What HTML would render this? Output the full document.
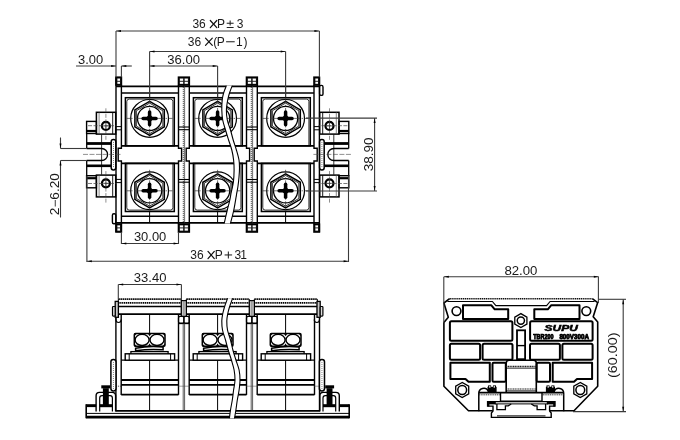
<!DOCTYPE html>
<html><head><meta charset="utf-8"><style>
html,body{margin:0;padding:0;background:#fff;}
svg{display:block;will-change:transform;font-family:"Liberation Sans", sans-serif;}
</style></head><body>
<svg width="680" height="440" viewBox="0 0 680 440">
<rect width="680" height="440" fill="#fff"/>
<line x1="116.00" y1="86.30" x2="319.40" y2="86.30" stroke="#000" stroke-width="1.8" stroke-linecap="butt"/>
<line x1="116.00" y1="222.90" x2="319.40" y2="222.90" stroke="#000" stroke-width="1.8" stroke-linecap="butt"/>
<line x1="121.40" y1="92.90" x2="178.50" y2="92.90" stroke="#000" stroke-width="1.5" stroke-linecap="butt"/>
<line x1="189.30" y1="92.90" x2="246.50" y2="92.90" stroke="#000" stroke-width="1.5" stroke-linecap="butt"/>
<line x1="257.30" y1="92.90" x2="314.00" y2="92.90" stroke="#000" stroke-width="1.5" stroke-linecap="butt"/>
<line x1="121.40" y1="216.30" x2="178.50" y2="216.30" stroke="#000" stroke-width="1.5" stroke-linecap="butt"/>
<line x1="189.30" y1="216.30" x2="246.50" y2="216.30" stroke="#000" stroke-width="1.5" stroke-linecap="butt"/>
<line x1="257.30" y1="216.30" x2="314.00" y2="216.30" stroke="#000" stroke-width="1.5" stroke-linecap="butt"/>
<line x1="121.40" y1="145.80" x2="178.50" y2="145.80" stroke="#000" stroke-width="1.8" stroke-linecap="butt"/>
<line x1="189.30" y1="145.80" x2="246.50" y2="145.80" stroke="#000" stroke-width="1.8" stroke-linecap="butt"/>
<line x1="257.30" y1="145.80" x2="314.00" y2="145.80" stroke="#000" stroke-width="1.8" stroke-linecap="butt"/>
<line x1="121.40" y1="163.40" x2="178.50" y2="163.40" stroke="#000" stroke-width="1.8" stroke-linecap="butt"/>
<line x1="189.30" y1="163.40" x2="246.50" y2="163.40" stroke="#000" stroke-width="1.8" stroke-linecap="butt"/>
<line x1="257.30" y1="163.40" x2="314.00" y2="163.40" stroke="#000" stroke-width="1.8" stroke-linecap="butt"/>
<rect x="125.40" y="97.70" width="48.90" height="48.10" rx="0" stroke="#000" stroke-width="1.5" fill="none"/>
<rect x="125.40" y="163.40" width="48.90" height="48.10" rx="0" stroke="#000" stroke-width="1.5" fill="none"/>
<path d="M126.8,145.8 V101.60000000000001 Q126.8,99.10000000000001 129.3,99.10000000000001 H170.39999999999998 Q172.89999999999998,99.10000000000001 172.89999999999998,101.60000000000001 V145.8" stroke="#000" stroke-width="0.8" fill="none" />
<path d="M126.8,163.39999999999998 V207.6 Q126.8,210.1 129.3,210.1 H170.39999999999998 Q172.89999999999998,210.1 172.89999999999998,207.6 V163.39999999999998" stroke="#000" stroke-width="0.8" fill="none" />
<rect x="193.40" y="97.70" width="48.90" height="48.10" rx="0" stroke="#000" stroke-width="1.5" fill="none"/>
<rect x="193.40" y="163.40" width="48.90" height="48.10" rx="0" stroke="#000" stroke-width="1.5" fill="none"/>
<path d="M194.8,145.8 V101.60000000000001 Q194.8,99.10000000000001 197.3,99.10000000000001 H238.39999999999998 Q240.89999999999998,99.10000000000001 240.89999999999998,101.60000000000001 V145.8" stroke="#000" stroke-width="0.8" fill="none" />
<path d="M194.8,163.39999999999998 V207.6 Q194.8,210.1 197.3,210.1 H238.39999999999998 Q240.89999999999998,210.1 240.89999999999998,207.6 V163.39999999999998" stroke="#000" stroke-width="0.8" fill="none" />
<rect x="261.40" y="97.70" width="48.90" height="48.10" rx="0" stroke="#000" stroke-width="1.5" fill="none"/>
<rect x="261.40" y="163.40" width="48.90" height="48.10" rx="0" stroke="#000" stroke-width="1.5" fill="none"/>
<path d="M262.8,145.8 V101.60000000000001 Q262.8,99.10000000000001 265.3,99.10000000000001 H306.40000000000003 Q308.90000000000003,99.10000000000001 308.90000000000003,101.60000000000001 V145.8" stroke="#000" stroke-width="0.8" fill="none" />
<path d="M262.8,163.39999999999998 V207.6 Q262.8,210.1 265.3,210.1 H306.40000000000003 Q308.90000000000003,210.1 308.90000000000003,207.6 V163.39999999999998" stroke="#000" stroke-width="0.8" fill="none" />
<line x1="116.00" y1="77.20" x2="116.00" y2="232.00" stroke="#000" stroke-width="1.4" stroke-linecap="butt"/>
<path d="M121.4,85.0 V148.2 H118.2 V161.0 H121.4 V224.2" stroke="#000" stroke-width="1.4" fill="none" />
<line x1="319.40" y1="77.20" x2="319.40" y2="232.00" stroke="#000" stroke-width="1.4" stroke-linecap="butt"/>
<path d="M314.0,85.0 V148.2 H317.2 V161.0 H314.0 V224.2" stroke="#000" stroke-width="1.4" fill="none" />
<path d="M178.5,85.0 V148.2 H181.6 V161.0 H178.5 V224.2" stroke="#000" stroke-width="1.4" fill="none" />
<path d="M189.3,85.0 V148.2 H186.20000000000002 V161.0 H189.3 V224.2" stroke="#000" stroke-width="1.4" fill="none" />
<line x1="183.30" y1="85.00" x2="183.30" y2="224.20" stroke="#222" stroke-width="0.8" stroke-dasharray="1.2,0.8" stroke-linecap="butt"/>
<line x1="184.60" y1="85.00" x2="184.60" y2="224.20" stroke="#333" stroke-width="0.7" stroke-linecap="butt"/>
<line x1="178.50" y1="127.00" x2="189.30" y2="127.00" stroke="#000" stroke-width="1.1" stroke-linecap="butt"/>
<line x1="178.50" y1="182.20" x2="189.30" y2="182.20" stroke="#000" stroke-width="1.1" stroke-linecap="butt"/>
<line x1="178.50" y1="129.70" x2="189.30" y2="129.70" stroke="#000" stroke-width="1.1" stroke-linecap="butt"/>
<line x1="178.50" y1="179.50" x2="189.30" y2="179.50" stroke="#000" stroke-width="1.1" stroke-linecap="butt"/>
<path d="M246.5,85.0 V148.2 H249.6 V161.0 H246.5 V224.2" stroke="#000" stroke-width="1.4" fill="none" />
<path d="M257.3,85.0 V148.2 H254.20000000000002 V161.0 H257.3 V224.2" stroke="#000" stroke-width="1.4" fill="none" />
<line x1="251.30" y1="85.00" x2="251.30" y2="224.20" stroke="#222" stroke-width="0.8" stroke-dasharray="1.2,0.8" stroke-linecap="butt"/>
<line x1="252.60" y1="85.00" x2="252.60" y2="224.20" stroke="#333" stroke-width="0.7" stroke-linecap="butt"/>
<line x1="246.50" y1="127.00" x2="257.30" y2="127.00" stroke="#000" stroke-width="1.1" stroke-linecap="butt"/>
<line x1="246.50" y1="182.20" x2="257.30" y2="182.20" stroke="#000" stroke-width="1.1" stroke-linecap="butt"/>
<line x1="246.50" y1="129.70" x2="257.30" y2="129.70" stroke="#000" stroke-width="1.1" stroke-linecap="butt"/>
<line x1="246.50" y1="179.50" x2="257.30" y2="179.50" stroke="#000" stroke-width="1.1" stroke-linecap="butt"/>
<line x1="116.00" y1="126.60" x2="121.40" y2="126.60" stroke="#000" stroke-width="1.0" stroke-linecap="butt"/>
<line x1="116.00" y1="182.60" x2="121.40" y2="182.60" stroke="#000" stroke-width="1.0" stroke-linecap="butt"/>
<line x1="116.00" y1="129.80" x2="121.40" y2="129.80" stroke="#000" stroke-width="1.0" stroke-linecap="butt"/>
<line x1="116.00" y1="179.40" x2="121.40" y2="179.40" stroke="#000" stroke-width="1.0" stroke-linecap="butt"/>
<line x1="314.00" y1="126.60" x2="319.40" y2="126.60" stroke="#000" stroke-width="1.0" stroke-linecap="butt"/>
<line x1="314.00" y1="182.60" x2="319.40" y2="182.60" stroke="#000" stroke-width="1.0" stroke-linecap="butt"/>
<line x1="314.00" y1="129.80" x2="319.40" y2="129.80" stroke="#000" stroke-width="1.0" stroke-linecap="butt"/>
<line x1="314.00" y1="179.40" x2="319.40" y2="179.40" stroke="#000" stroke-width="1.0" stroke-linecap="butt"/>
<rect x="116.00" y="77.20" width="5.40" height="7.80" rx="0" stroke="#000" stroke-width="1.6" fill="#222"/>
<rect x="117.40" y="78.60" width="2.60" height="2.20" fill="#fff"/>
<rect x="117.40" y="81.80" width="2.60" height="2.00" fill="#fff"/>
<rect x="116.00" y="224.20" width="5.40" height="7.80" rx="0" stroke="#000" stroke-width="1.6" fill="#222"/>
<rect x="117.40" y="225.40" width="2.60" height="2.00" fill="#fff"/>
<rect x="117.40" y="228.40" width="2.60" height="2.20" fill="#fff"/>
<rect x="178.50" y="77.20" width="10.80" height="7.80" rx="0" stroke="#000" stroke-width="1.6" fill="#222"/>
<rect x="179.90" y="78.60" width="3.20" height="2.20" fill="#fff"/>
<rect x="179.90" y="81.80" width="3.20" height="2.00" fill="#fff"/>
<rect x="184.70" y="78.60" width="3.20" height="2.20" fill="#fff"/>
<rect x="184.70" y="81.80" width="3.20" height="2.00" fill="#fff"/>
<rect x="178.50" y="224.20" width="10.80" height="7.80" rx="0" stroke="#000" stroke-width="1.6" fill="#222"/>
<rect x="179.90" y="225.40" width="3.20" height="2.00" fill="#fff"/>
<rect x="179.90" y="228.40" width="3.20" height="2.20" fill="#fff"/>
<rect x="184.70" y="225.40" width="3.20" height="2.00" fill="#fff"/>
<rect x="184.70" y="228.40" width="3.20" height="2.20" fill="#fff"/>
<rect x="246.50" y="77.20" width="10.80" height="7.80" rx="0" stroke="#000" stroke-width="1.6" fill="#222"/>
<rect x="247.90" y="78.60" width="3.20" height="2.20" fill="#fff"/>
<rect x="247.90" y="81.80" width="3.20" height="2.00" fill="#fff"/>
<rect x="252.70" y="78.60" width="3.20" height="2.20" fill="#fff"/>
<rect x="252.70" y="81.80" width="3.20" height="2.00" fill="#fff"/>
<rect x="246.50" y="224.20" width="10.80" height="7.80" rx="0" stroke="#000" stroke-width="1.6" fill="#222"/>
<rect x="247.90" y="225.40" width="3.20" height="2.00" fill="#fff"/>
<rect x="247.90" y="228.40" width="3.20" height="2.20" fill="#fff"/>
<rect x="252.70" y="225.40" width="3.20" height="2.00" fill="#fff"/>
<rect x="252.70" y="228.40" width="3.20" height="2.20" fill="#fff"/>
<rect x="314.00" y="77.20" width="5.40" height="7.80" rx="0" stroke="#000" stroke-width="1.6" fill="#222"/>
<rect x="315.40" y="78.60" width="2.60" height="2.20" fill="#fff"/>
<rect x="315.40" y="81.80" width="2.60" height="2.00" fill="#fff"/>
<rect x="314.00" y="224.20" width="5.40" height="7.80" rx="0" stroke="#000" stroke-width="1.6" fill="#222"/>
<rect x="315.40" y="225.40" width="2.60" height="2.00" fill="#fff"/>
<rect x="315.40" y="228.40" width="2.60" height="2.20" fill="#fff"/>
<rect x="319.60" y="85.40" width="3.40" height="10.00" rx="1.5" stroke="#000" stroke-width="1.4" fill="none"/>
<rect x="112.40" y="213.80" width="3.40" height="10.00" rx="1.5" stroke="#000" stroke-width="1.4" fill="none"/>
<line x1="149.60" y1="86.30" x2="149.60" y2="97.70" stroke="#000" stroke-width="1.0" stroke-linecap="butt"/>
<line x1="149.60" y1="211.50" x2="149.60" y2="222.90" stroke="#000" stroke-width="1.0" stroke-linecap="butt"/>
<line x1="217.60" y1="86.30" x2="217.60" y2="97.70" stroke="#000" stroke-width="1.0" stroke-linecap="butt"/>
<line x1="217.60" y1="211.50" x2="217.60" y2="222.90" stroke="#000" stroke-width="1.0" stroke-linecap="butt"/>
<line x1="285.60" y1="86.30" x2="285.60" y2="97.70" stroke="#000" stroke-width="1.0" stroke-linecap="butt"/>
<line x1="285.60" y1="211.50" x2="285.60" y2="222.90" stroke="#000" stroke-width="1.0" stroke-linecap="butt"/>
<circle cx="149.60" cy="118.40" r="18.9" stroke="#000" stroke-width="1.2" fill="none"/>
<path d="M149.60,101.40 L134.88,109.90 L134.88,126.90 L149.60,135.40 L164.32,126.90 L164.32,109.90Z" stroke="#000" stroke-width="1.5" fill="none" />
<path d="M149.60,103.10 L136.35,110.75 L136.35,126.05 L149.60,133.70 L162.85,126.05 L162.85,110.75Z" stroke="#000" stroke-width="0.8" fill="none" />
<circle cx="149.60" cy="118.40" r="12.1" stroke="#000" stroke-width="1.3" fill="none"/>
<line x1="126.60" y1="118.40" x2="172.60" y2="118.40" stroke="#333" stroke-width="0.7" stroke-dasharray="6,1.5,1.5,1.5" stroke-linecap="butt"/>
<line x1="149.60" y1="97.40" x2="149.60" y2="139.40" stroke="#333" stroke-width="0.7" stroke-dasharray="6,1.5,1.5,1.5" stroke-linecap="butt"/>
<rect x="141.40" y="116.65" width="16.40" height="3.50" rx="1.75" fill="#000"/>
<rect x="147.85" y="110.20" width="3.50" height="16.40" rx="1.75" fill="#000"/>
<rect x="146.60" y="115.40" width="6.0" height="6.0" rx="1" transform="rotate(45 149.60 118.40)" fill="#000"/>
<circle cx="149.60" cy="190.80" r="18.9" stroke="#000" stroke-width="1.2" fill="none"/>
<path d="M149.60,173.80 L134.88,182.30 L134.88,199.30 L149.60,207.80 L164.32,199.30 L164.32,182.30Z" stroke="#000" stroke-width="1.5" fill="none" />
<path d="M149.60,175.50 L136.35,183.15 L136.35,198.45 L149.60,206.10 L162.85,198.45 L162.85,183.15Z" stroke="#000" stroke-width="0.8" fill="none" />
<circle cx="149.60" cy="190.80" r="12.1" stroke="#000" stroke-width="1.3" fill="none"/>
<line x1="126.60" y1="190.80" x2="172.60" y2="190.80" stroke="#333" stroke-width="0.7" stroke-dasharray="6,1.5,1.5,1.5" stroke-linecap="butt"/>
<line x1="149.60" y1="169.80" x2="149.60" y2="211.80" stroke="#333" stroke-width="0.7" stroke-dasharray="6,1.5,1.5,1.5" stroke-linecap="butt"/>
<rect x="141.40" y="189.05" width="16.40" height="3.50" rx="1.75" fill="#000"/>
<rect x="147.85" y="182.60" width="3.50" height="16.40" rx="1.75" fill="#000"/>
<rect x="146.60" y="187.80" width="6.0" height="6.0" rx="1" transform="rotate(45 149.60 190.80)" fill="#000"/>
<circle cx="217.60" cy="118.40" r="18.9" stroke="#000" stroke-width="1.2" fill="none"/>
<path d="M217.60,101.40 L202.88,109.90 L202.88,126.90 L217.60,135.40 L232.32,126.90 L232.32,109.90Z" stroke="#000" stroke-width="1.5" fill="none" />
<path d="M217.60,103.10 L204.35,110.75 L204.35,126.05 L217.60,133.70 L230.85,126.05 L230.85,110.75Z" stroke="#000" stroke-width="0.8" fill="none" />
<circle cx="217.60" cy="118.40" r="12.1" stroke="#000" stroke-width="1.3" fill="none"/>
<line x1="194.60" y1="118.40" x2="240.60" y2="118.40" stroke="#333" stroke-width="0.7" stroke-dasharray="6,1.5,1.5,1.5" stroke-linecap="butt"/>
<line x1="217.60" y1="97.40" x2="217.60" y2="139.40" stroke="#333" stroke-width="0.7" stroke-dasharray="6,1.5,1.5,1.5" stroke-linecap="butt"/>
<rect x="209.40" y="116.65" width="16.40" height="3.50" rx="1.75" fill="#000"/>
<rect x="215.85" y="110.20" width="3.50" height="16.40" rx="1.75" fill="#000"/>
<rect x="214.60" y="115.40" width="6.0" height="6.0" rx="1" transform="rotate(45 217.60 118.40)" fill="#000"/>
<circle cx="217.60" cy="190.80" r="18.9" stroke="#000" stroke-width="1.2" fill="none"/>
<path d="M217.60,173.80 L202.88,182.30 L202.88,199.30 L217.60,207.80 L232.32,199.30 L232.32,182.30Z" stroke="#000" stroke-width="1.5" fill="none" />
<path d="M217.60,175.50 L204.35,183.15 L204.35,198.45 L217.60,206.10 L230.85,198.45 L230.85,183.15Z" stroke="#000" stroke-width="0.8" fill="none" />
<circle cx="217.60" cy="190.80" r="12.1" stroke="#000" stroke-width="1.3" fill="none"/>
<line x1="194.60" y1="190.80" x2="240.60" y2="190.80" stroke="#333" stroke-width="0.7" stroke-dasharray="6,1.5,1.5,1.5" stroke-linecap="butt"/>
<line x1="217.60" y1="169.80" x2="217.60" y2="211.80" stroke="#333" stroke-width="0.7" stroke-dasharray="6,1.5,1.5,1.5" stroke-linecap="butt"/>
<rect x="209.40" y="189.05" width="16.40" height="3.50" rx="1.75" fill="#000"/>
<rect x="215.85" y="182.60" width="3.50" height="16.40" rx="1.75" fill="#000"/>
<rect x="214.60" y="187.80" width="6.0" height="6.0" rx="1" transform="rotate(45 217.60 190.80)" fill="#000"/>
<circle cx="285.60" cy="118.40" r="18.9" stroke="#000" stroke-width="1.2" fill="none"/>
<path d="M285.60,101.40 L270.88,109.90 L270.88,126.90 L285.60,135.40 L300.32,126.90 L300.32,109.90Z" stroke="#000" stroke-width="1.5" fill="none" />
<path d="M285.60,103.10 L272.35,110.75 L272.35,126.05 L285.60,133.70 L298.85,126.05 L298.85,110.75Z" stroke="#000" stroke-width="0.8" fill="none" />
<circle cx="285.60" cy="118.40" r="12.1" stroke="#000" stroke-width="1.3" fill="none"/>
<line x1="262.60" y1="118.40" x2="308.60" y2="118.40" stroke="#333" stroke-width="0.7" stroke-dasharray="6,1.5,1.5,1.5" stroke-linecap="butt"/>
<line x1="285.60" y1="97.40" x2="285.60" y2="139.40" stroke="#333" stroke-width="0.7" stroke-dasharray="6,1.5,1.5,1.5" stroke-linecap="butt"/>
<rect x="277.40" y="116.65" width="16.40" height="3.50" rx="1.75" fill="#000"/>
<rect x="283.85" y="110.20" width="3.50" height="16.40" rx="1.75" fill="#000"/>
<rect x="282.60" y="115.40" width="6.0" height="6.0" rx="1" transform="rotate(45 285.60 118.40)" fill="#000"/>
<circle cx="285.60" cy="190.80" r="18.9" stroke="#000" stroke-width="1.2" fill="none"/>
<path d="M285.60,173.80 L270.88,182.30 L270.88,199.30 L285.60,207.80 L300.32,199.30 L300.32,182.30Z" stroke="#000" stroke-width="1.5" fill="none" />
<path d="M285.60,175.50 L272.35,183.15 L272.35,198.45 L285.60,206.10 L298.85,198.45 L298.85,183.15Z" stroke="#000" stroke-width="0.8" fill="none" />
<circle cx="285.60" cy="190.80" r="12.1" stroke="#000" stroke-width="1.3" fill="none"/>
<line x1="262.60" y1="190.80" x2="308.60" y2="190.80" stroke="#333" stroke-width="0.7" stroke-dasharray="6,1.5,1.5,1.5" stroke-linecap="butt"/>
<line x1="285.60" y1="169.80" x2="285.60" y2="211.80" stroke="#333" stroke-width="0.7" stroke-dasharray="6,1.5,1.5,1.5" stroke-linecap="butt"/>
<rect x="277.40" y="189.05" width="16.40" height="3.50" rx="1.75" fill="#000"/>
<rect x="283.85" y="182.60" width="3.50" height="16.40" rx="1.75" fill="#000"/>
<rect x="282.60" y="187.80" width="6.0" height="6.0" rx="1" transform="rotate(45 285.60 190.80)" fill="#000"/>
<rect x="96.40" y="112.30" width="19.30" height="21.80" rx="0" stroke="#000" stroke-width="1.5" fill="none"/>
<line x1="99.10" y1="112.30" x2="99.10" y2="134.10" stroke="#555" stroke-width="0.7" stroke-linecap="butt"/>
<line x1="112.70" y1="112.30" x2="112.70" y2="134.10" stroke="#000" stroke-width="0.9" stroke-linecap="butt"/>
<circle cx="105.90" cy="125.90" r="4.0" stroke="#000" stroke-width="2.2" fill="none"/>
<line x1="102.90" y1="125.90" x2="108.90" y2="125.90" stroke="#000" stroke-width="0.6" stroke-linecap="butt"/>
<line x1="105.90" y1="122.90" x2="105.90" y2="128.90" stroke="#000" stroke-width="0.6" stroke-linecap="butt"/>
<line x1="105.90" y1="108.30" x2="105.90" y2="140.10" stroke="#444" stroke-width="0.6" stroke-dasharray="4,1.5" stroke-linecap="butt"/>
<rect x="96.40" y="175.10" width="19.30" height="21.80" rx="0" stroke="#000" stroke-width="1.5" fill="none"/>
<line x1="99.10" y1="175.10" x2="99.10" y2="196.90" stroke="#555" stroke-width="0.7" stroke-linecap="butt"/>
<line x1="112.70" y1="175.10" x2="112.70" y2="196.90" stroke="#000" stroke-width="0.9" stroke-linecap="butt"/>
<circle cx="105.90" cy="183.30" r="4.0" stroke="#000" stroke-width="2.2" fill="none"/>
<line x1="102.90" y1="183.30" x2="108.90" y2="183.30" stroke="#000" stroke-width="0.6" stroke-linecap="butt"/>
<line x1="105.90" y1="180.30" x2="105.90" y2="186.30" stroke="#000" stroke-width="0.6" stroke-linecap="butt"/>
<line x1="105.90" y1="171.10" x2="105.90" y2="202.90" stroke="#444" stroke-width="0.6" stroke-dasharray="4,1.5" stroke-linecap="butt"/>
<rect x="86.60" y="121.40" width="9.80" height="12.10" rx="0" stroke="#000" stroke-width="1.4" fill="none"/>
<line x1="86.60" y1="131.00" x2="96.40" y2="131.00" stroke="#000" stroke-width="2.2" stroke-linecap="butt"/>
<line x1="88.00" y1="125.70" x2="117.00" y2="125.70" stroke="#444" stroke-width="0.7" stroke-dasharray="4,1.5" stroke-linecap="butt"/>
<rect x="86.60" y="175.70" width="9.80" height="12.10" rx="0" stroke="#000" stroke-width="1.4" fill="none"/>
<line x1="86.60" y1="178.20" x2="96.40" y2="178.20" stroke="#000" stroke-width="2.2" stroke-linecap="butt"/>
<line x1="88.00" y1="183.50" x2="117.00" y2="183.50" stroke="#444" stroke-width="0.7" stroke-dasharray="4,1.5" stroke-linecap="butt"/>
<line x1="86.70" y1="133.50" x2="86.70" y2="148.50" stroke="#000" stroke-width="1.3" stroke-linecap="butt"/>
<line x1="86.70" y1="160.50" x2="86.70" y2="175.70" stroke="#000" stroke-width="1.3" stroke-linecap="butt"/>
<line x1="86.90" y1="143.50" x2="111.20" y2="143.50" stroke="#000" stroke-width="2.8" stroke-linecap="butt"/>
<line x1="86.90" y1="165.80" x2="111.20" y2="165.80" stroke="#000" stroke-width="2.6" stroke-linecap="butt"/>
<line x1="101.60" y1="134.50" x2="101.60" y2="174.70" stroke="#000" stroke-width="0.8" stroke-linecap="butt"/>
<path d="M86.7,148.5 H101.6 A6.0,6.0 0 0 1 101.6,160.5 H86.7" stroke="#000" stroke-width="1.3" fill="none" />
<rect x="111.20" y="139.60" width="4.60" height="30.40" rx="2.2" stroke="#000" stroke-width="1.5" fill="#fff"/>
<line x1="113.50" y1="142.00" x2="113.50" y2="168.00" stroke="#555" stroke-width="0.7" stroke-dasharray="1,1" stroke-linecap="butt"/>
<rect x="319.70" y="112.30" width="19.30" height="21.80" rx="0" stroke="#000" stroke-width="1.5" fill="none"/>
<line x1="336.30" y1="112.30" x2="336.30" y2="134.10" stroke="#555" stroke-width="0.7" stroke-linecap="butt"/>
<line x1="322.70" y1="112.30" x2="322.70" y2="134.10" stroke="#000" stroke-width="0.9" stroke-linecap="butt"/>
<circle cx="329.50" cy="125.90" r="4.0" stroke="#000" stroke-width="2.2" fill="none"/>
<line x1="326.50" y1="125.90" x2="332.50" y2="125.90" stroke="#000" stroke-width="0.6" stroke-linecap="butt"/>
<line x1="329.50" y1="122.90" x2="329.50" y2="128.90" stroke="#000" stroke-width="0.6" stroke-linecap="butt"/>
<line x1="329.50" y1="108.30" x2="329.50" y2="140.10" stroke="#444" stroke-width="0.6" stroke-dasharray="4,1.5" stroke-linecap="butt"/>
<rect x="319.70" y="175.10" width="19.30" height="21.80" rx="0" stroke="#000" stroke-width="1.5" fill="none"/>
<line x1="336.30" y1="175.10" x2="336.30" y2="196.90" stroke="#555" stroke-width="0.7" stroke-linecap="butt"/>
<line x1="322.70" y1="175.10" x2="322.70" y2="196.90" stroke="#000" stroke-width="0.9" stroke-linecap="butt"/>
<circle cx="329.50" cy="183.30" r="4.0" stroke="#000" stroke-width="2.2" fill="none"/>
<line x1="326.50" y1="183.30" x2="332.50" y2="183.30" stroke="#000" stroke-width="0.6" stroke-linecap="butt"/>
<line x1="329.50" y1="180.30" x2="329.50" y2="186.30" stroke="#000" stroke-width="0.6" stroke-linecap="butt"/>
<line x1="329.50" y1="171.10" x2="329.50" y2="202.90" stroke="#444" stroke-width="0.6" stroke-dasharray="4,1.5" stroke-linecap="butt"/>
<rect x="339.00" y="121.40" width="9.80" height="12.10" rx="0" stroke="#000" stroke-width="1.4" fill="none"/>
<line x1="339.00" y1="131.00" x2="348.80" y2="131.00" stroke="#000" stroke-width="2.2" stroke-linecap="butt"/>
<line x1="347.40" y1="125.70" x2="318.40" y2="125.70" stroke="#444" stroke-width="0.7" stroke-dasharray="4,1.5" stroke-linecap="butt"/>
<rect x="339.00" y="175.70" width="9.80" height="12.10" rx="0" stroke="#000" stroke-width="1.4" fill="none"/>
<line x1="339.00" y1="178.20" x2="348.80" y2="178.20" stroke="#000" stroke-width="2.2" stroke-linecap="butt"/>
<line x1="347.40" y1="183.50" x2="318.40" y2="183.50" stroke="#444" stroke-width="0.7" stroke-dasharray="4,1.5" stroke-linecap="butt"/>
<line x1="348.70" y1="133.50" x2="348.70" y2="148.50" stroke="#000" stroke-width="1.3" stroke-linecap="butt"/>
<line x1="348.70" y1="160.50" x2="348.70" y2="175.70" stroke="#000" stroke-width="1.3" stroke-linecap="butt"/>
<line x1="348.50" y1="143.50" x2="324.20" y2="143.50" stroke="#000" stroke-width="2.8" stroke-linecap="butt"/>
<line x1="348.50" y1="165.80" x2="324.20" y2="165.80" stroke="#000" stroke-width="2.6" stroke-linecap="butt"/>
<line x1="333.80" y1="134.50" x2="333.80" y2="174.70" stroke="#000" stroke-width="0.8" stroke-linecap="butt"/>
<path d="M348.7,148.5 H333.79999999999995 A6.0,6.0 0 0 0 333.79999999999995,160.5 H348.7" stroke="#000" stroke-width="1.3" fill="none" />
<rect x="319.60" y="139.60" width="4.60" height="30.40" rx="2.2" stroke="#000" stroke-width="1.5" fill="#fff"/>
<line x1="321.90" y1="142.00" x2="321.90" y2="168.00" stroke="#555" stroke-width="0.7" stroke-dasharray="1,1" stroke-linecap="butt"/>
<line x1="83.00" y1="154.40" x2="122.00" y2="154.40" stroke="#444" stroke-width="0.6" stroke-dasharray="5,1.5" stroke-linecap="butt"/>
<line x1="313.40" y1="154.40" x2="352.40" y2="154.40" stroke="#444" stroke-width="0.6" stroke-dasharray="5,1.5" stroke-linecap="butt"/>
<path d="M226.40,85.60 C225.93,86.83 224.30,90.60 223.60,93.00 C222.90,95.40 222.50,97.17 222.20,100.00 C221.90,102.83 221.72,106.67 221.80,110.00 C221.88,113.33 222.08,116.67 222.70,120.00 C223.32,123.33 224.52,126.67 225.50,130.00 C226.48,133.33 227.55,136.67 228.60,140.00 C229.65,143.33 230.97,146.67 231.80,150.00 C232.63,153.33 233.22,156.67 233.60,160.00 C233.98,163.33 234.13,166.33 234.10,170.00 C234.07,173.67 233.87,178.33 233.40,182.00 C232.93,185.67 231.93,188.83 231.30,192.00 C230.67,195.17 230.27,198.00 229.60,201.00 C228.93,204.00 228.20,206.25 227.30,210.00 C226.40,213.75 224.72,221.25 224.20,223.50 L230.40,223.50 C230.97,221.25 232.77,214.92 233.80,210.00 C234.83,205.08 235.90,198.00 236.60,194.00 C237.30,190.00 237.60,188.83 238.00,186.00 C238.40,183.17 238.75,180.00 239.00,177.00 C239.25,174.00 239.50,170.83 239.50,168.00 C239.50,165.17 239.52,163.00 239.00,160.00 C238.48,157.00 237.37,153.33 236.40,150.00 C235.43,146.67 234.18,143.33 233.20,140.00 C232.22,136.67 231.48,133.33 230.50,130.00 C229.52,126.67 227.98,123.33 227.30,120.00 C226.62,116.67 226.33,113.33 226.40,110.00 C226.47,106.67 227.18,102.83 227.70,100.00 C228.22,97.17 228.73,95.40 229.50,93.00 C230.27,90.60 231.83,86.83 232.30,85.60Z" stroke="#000" stroke-width="0" fill="#fff" />
<path d="M226.40,85.60 C225.93,86.83 224.30,90.60 223.60,93.00 C222.90,95.40 222.50,97.17 222.20,100.00 C221.90,102.83 221.72,106.67 221.80,110.00 C221.88,113.33 222.08,116.67 222.70,120.00 C223.32,123.33 224.52,126.67 225.50,130.00 C226.48,133.33 227.55,136.67 228.60,140.00 C229.65,143.33 230.97,146.67 231.80,150.00 C232.63,153.33 233.22,156.67 233.60,160.00 C233.98,163.33 234.13,166.33 234.10,170.00 C234.07,173.67 233.87,178.33 233.40,182.00 C232.93,185.67 231.93,188.83 231.30,192.00 C230.67,195.17 230.27,198.00 229.60,201.00 C228.93,204.00 228.20,206.25 227.30,210.00 C226.40,213.75 224.72,221.25 224.20,223.50" stroke="#000" stroke-width="1.1" fill="none" />
<path d="M232.30,85.60 C231.83,86.83 230.27,90.60 229.50,93.00 C228.73,95.40 228.22,97.17 227.70,100.00 C227.18,102.83 226.47,106.67 226.40,110.00 C226.33,113.33 226.62,116.67 227.30,120.00 C227.98,123.33 229.52,126.67 230.50,130.00 C231.48,133.33 232.22,136.67 233.20,140.00 C234.18,143.33 235.43,146.67 236.40,150.00 C237.37,153.33 238.48,157.00 239.00,160.00 C239.52,163.00 239.50,165.17 239.50,168.00 C239.50,170.83 239.25,174.00 239.00,177.00 C238.75,180.00 238.40,183.17 238.00,186.00 C237.60,188.83 237.30,190.00 236.60,194.00 C235.90,198.00 234.83,205.08 233.80,210.00 C232.77,214.92 230.97,221.25 230.40,223.50" stroke="#000" stroke-width="1.1" fill="none" />
<line x1="116.00" y1="31.00" x2="116.00" y2="77.20" stroke="#3a3a3a" stroke-width="1.1" stroke-linecap="butt"/>
<line x1="319.40" y1="31.00" x2="319.40" y2="77.20" stroke="#3a3a3a" stroke-width="1.1" stroke-linecap="butt"/>
<line x1="116.00" y1="31.00" x2="319.40" y2="31.00" stroke="#3a3a3a" stroke-width="1.1" stroke-linecap="butt"/>
<path d="M116.5,31 L121.0,30.0 L121.0,32.0Z" fill="#000"/>
<path d="M318.9,31 L314.4,30.0 L314.4,32.0Z" fill="#000"/>
<line x1="149.60" y1="51.50" x2="149.60" y2="97.00" stroke="#3a3a3a" stroke-width="1.1" stroke-linecap="butt"/>
<line x1="285.60" y1="51.50" x2="285.60" y2="97.00" stroke="#3a3a3a" stroke-width="1.1" stroke-linecap="butt"/>
<line x1="149.60" y1="51.50" x2="285.60" y2="51.50" stroke="#3a3a3a" stroke-width="1.1" stroke-linecap="butt"/>
<path d="M150,51.5 L154.5,50.5 L154.5,52.5Z" fill="#000"/>
<path d="M285.2,51.5 L280.7,50.5 L280.7,52.5Z" fill="#000"/>
<line x1="149.60" y1="66.00" x2="217.60" y2="66.00" stroke="#3a3a3a" stroke-width="1.1" stroke-linecap="butt"/>
<path d="M150,66 L154.5,65.0 L154.5,67.0Z" fill="#000"/>
<path d="M217.2,66 L212.7,65.0 L212.7,67.0Z" fill="#000"/>
<line x1="217.60" y1="66.00" x2="217.60" y2="97.00" stroke="#3a3a3a" stroke-width="1.1" stroke-linecap="butt"/>
<line x1="76.00" y1="66.00" x2="116.00" y2="66.00" stroke="#3a3a3a" stroke-width="1.1" stroke-linecap="butt"/>
<path d="M115.6,66 L111.1,65.0 L111.1,67.0Z" fill="#000"/>
<line x1="121.40" y1="66.00" x2="131.80" y2="66.00" stroke="#3a3a3a" stroke-width="1.1" stroke-linecap="butt"/>
<path d="M121.8,66 L126.3,65.0 L126.3,67.0Z" fill="#000"/>
<line x1="121.40" y1="66.00" x2="121.40" y2="77.20" stroke="#3a3a3a" stroke-width="1.1" stroke-linecap="butt"/>
<line x1="121.40" y1="232.00" x2="121.40" y2="244.00" stroke="#3a3a3a" stroke-width="1.1" stroke-linecap="butt"/>
<line x1="178.50" y1="232.00" x2="178.50" y2="244.00" stroke="#3a3a3a" stroke-width="1.1" stroke-linecap="butt"/>
<line x1="121.40" y1="243.50" x2="178.50" y2="243.50" stroke="#3a3a3a" stroke-width="1.1" stroke-linecap="butt"/>
<path d="M121.8,243.5 L126.3,242.5 L126.3,244.5Z" fill="#000"/>
<path d="M178.1,243.5 L173.6,242.5 L173.6,244.5Z" fill="#000"/>
<line x1="86.90" y1="175.70" x2="86.90" y2="262.00" stroke="#3a3a3a" stroke-width="1.1" stroke-linecap="butt"/>
<line x1="348.50" y1="175.70" x2="348.50" y2="262.00" stroke="#3a3a3a" stroke-width="1.1" stroke-linecap="butt"/>
<line x1="86.90" y1="261.30" x2="348.50" y2="261.30" stroke="#3a3a3a" stroke-width="1.1" stroke-linecap="butt"/>
<path d="M87.3,261.3 L91.8,260.3 L91.8,262.3Z" fill="#000"/>
<path d="M348.1,261.3 L343.6,260.3 L343.6,262.3Z" fill="#000"/>
<line x1="306.00" y1="118.10" x2="377.00" y2="118.10" stroke="#3a3a3a" stroke-width="1.1" stroke-linecap="butt"/>
<line x1="306.00" y1="191.00" x2="377.00" y2="191.00" stroke="#3a3a3a" stroke-width="1.1" stroke-linecap="butt"/>
<line x1="374.60" y1="118.10" x2="374.60" y2="191.00" stroke="#3a3a3a" stroke-width="1.1" stroke-linecap="butt"/>
<path d="M374.6,118.5 L373.6,123.0 L375.6,123.0Z" fill="#000"/>
<path d="M374.6,190.6 L373.6,186.1 L375.6,186.1Z" fill="#000"/>
<line x1="60.50" y1="148.50" x2="86.70" y2="148.50" stroke="#3a3a3a" stroke-width="1.1" stroke-linecap="butt"/>
<line x1="60.50" y1="160.50" x2="86.70" y2="160.50" stroke="#3a3a3a" stroke-width="1.1" stroke-linecap="butt"/>
<line x1="60.50" y1="137.50" x2="60.50" y2="148.50" stroke="#3a3a3a" stroke-width="1.1" stroke-linecap="butt"/>
<path d="M60.5,148.1 L59.5,143.6 L61.5,143.6Z" fill="#000"/>
<line x1="60.50" y1="160.50" x2="60.50" y2="217.50" stroke="#3a3a3a" stroke-width="1.1" stroke-linecap="butt"/>
<path d="M60.5,160.9 L59.5,165.4 L61.5,165.4Z" fill="#000"/>
<text x="195.75" y="28.0" font-size="12" text-anchor="middle" fill="#1a1a1a">3</text>
<text x="202.35" y="28.0" font-size="12" text-anchor="middle" fill="#1a1a1a">6</text>
<line x1="210.30" y1="20.50" x2="216.80" y2="27.70" stroke="#111" stroke-width="1.2" stroke-linecap="round"/>
<line x1="216.80" y1="20.50" x2="210.30" y2="27.70" stroke="#111" stroke-width="1.2" stroke-linecap="round"/>
<text x="221.05" y="28.0" font-size="12" text-anchor="middle" fill="#1a1a1a">P</text>
<line x1="230.15" y1="20.50" x2="230.15" y2="25.40" stroke="#222" stroke-width="1.05" stroke-linecap="butt"/>
<line x1="226.70" y1="23.25" x2="233.60" y2="23.25" stroke="#222" stroke-width="1.05" stroke-linecap="butt"/>
<line x1="226.70" y1="27.50" x2="233.60" y2="27.50" stroke="#222" stroke-width="1.05" stroke-linecap="butt"/>
<text x="240.20" y="28.0" font-size="12" text-anchor="middle" fill="#1a1a1a">3</text>
<text x="191.20" y="45.7" font-size="12" text-anchor="middle" fill="#1a1a1a">3</text>
<text x="197.90" y="45.7" font-size="12" text-anchor="middle" fill="#1a1a1a">6</text>
<line x1="205.50" y1="38.20" x2="212.30" y2="45.40" stroke="#111" stroke-width="1.2" stroke-linecap="round"/>
<line x1="212.30" y1="38.20" x2="205.50" y2="45.40" stroke="#111" stroke-width="1.2" stroke-linecap="round"/>
<text x="215.35" y="45.7" font-size="12" text-anchor="middle" fill="#1a1a1a">(</text>
<text x="220.85" y="45.7" font-size="12" text-anchor="middle" fill="#1a1a1a">P</text>
<line x1="226.10" y1="41.75" x2="234.70" y2="41.75" stroke="#222" stroke-width="1.05" stroke-linecap="butt"/>
<text x="239.30" y="45.7" font-size="12" text-anchor="middle" fill="#1a1a1a">1</text>
<text x="245.45" y="45.7" font-size="12" text-anchor="middle" fill="#1a1a1a">)</text>
<text x="78.0" y="63.9" font-size="12" font-weight="normal" font-style="normal" text-anchor="start" fill="#1a1a1a" textLength="25.2" lengthAdjust="spacingAndGlyphs">3.00</text>
<text x="167.3" y="63.9" font-size="12" font-weight="normal" font-style="normal" text-anchor="start" fill="#1a1a1a" textLength="32.7" lengthAdjust="spacingAndGlyphs">36.00</text>
<text x="133.9" y="241.2" font-size="12.4" font-weight="normal" font-style="normal" text-anchor="start" fill="#1a1a1a" textLength="32.4" lengthAdjust="spacingAndGlyphs">30.00</text>
<text x="193.55" y="258.9" font-size="12" text-anchor="middle" fill="#1a1a1a">3</text>
<text x="200.35" y="258.9" font-size="12" text-anchor="middle" fill="#1a1a1a">6</text>
<line x1="208.00" y1="251.40" x2="214.30" y2="258.60" stroke="#111" stroke-width="1.2" stroke-linecap="round"/>
<line x1="214.30" y1="251.40" x2="208.00" y2="258.60" stroke="#111" stroke-width="1.2" stroke-linecap="round"/>
<text x="218.70" y="258.9" font-size="12" text-anchor="middle" fill="#1a1a1a">P</text>
<line x1="228.35" y1="251.60" x2="228.35" y2="258.40" stroke="#222" stroke-width="1.05" stroke-linecap="butt"/>
<line x1="224.60" y1="254.95" x2="232.10" y2="254.95" stroke="#222" stroke-width="1.05" stroke-linecap="butt"/>
<text x="237.75" y="258.9" font-size="12" text-anchor="middle" fill="#1a1a1a">3</text>
<text x="243.65" y="258.9" font-size="12" text-anchor="middle" fill="#1a1a1a">1</text>
<text x="373.1" y="171.3" font-size="12" font-weight="normal" font-style="normal" text-anchor="start" fill="#1a1a1a" textLength="33.7" lengthAdjust="spacingAndGlyphs" transform="rotate(-90 373.1 171.3)">38.90</text>
<text x="59.2" y="215.2" font-size="12" font-weight="normal" font-style="normal" text-anchor="start" fill="#1a1a1a" textLength="42.2" lengthAdjust="spacingAndGlyphs" transform="rotate(-90 59.2 215.2)">2−6.20</text>
<line x1="118.30" y1="299.20" x2="181.40" y2="299.20" stroke="#111" stroke-width="1.8" stroke-dasharray="1.6,0.5" stroke-linecap="butt"/>
<line x1="118.30" y1="302.90" x2="181.40" y2="302.90" stroke="#000" stroke-width="1.6" stroke-dasharray="1.3,0.6" stroke-linecap="butt"/>
<line x1="118.30" y1="306.50" x2="181.40" y2="306.50" stroke="#000" stroke-width="1.6" stroke-linecap="butt"/>
<line x1="118.30" y1="314.10" x2="181.40" y2="314.10" stroke="#000" stroke-width="1.6" stroke-linecap="butt"/>
<line x1="118.30" y1="299.20" x2="118.30" y2="314.10" stroke="#000" stroke-width="1.0" stroke-linecap="butt"/>
<line x1="181.40" y1="299.20" x2="181.40" y2="314.10" stroke="#000" stroke-width="1.0" stroke-linecap="butt"/>
<line x1="121.20" y1="314.10" x2="121.20" y2="394.90" stroke="#000" stroke-width="1.4" stroke-linecap="butt"/>
<line x1="178.50" y1="314.10" x2="178.50" y2="394.90" stroke="#000" stroke-width="1.4" stroke-linecap="butt"/>
<line x1="149.60" y1="314.10" x2="149.60" y2="333.60" stroke="#000" stroke-width="1.0" stroke-linecap="butt"/>
<line x1="149.60" y1="360.20" x2="149.60" y2="410.80" stroke="#000" stroke-width="1.0" stroke-linecap="butt"/>
<line x1="121.20" y1="360.20" x2="178.50" y2="360.20" stroke="#000" stroke-width="1.3" stroke-linecap="butt"/>
<line x1="121.20" y1="380.00" x2="178.50" y2="380.00" stroke="#000" stroke-width="1.8" stroke-linecap="butt"/>
<line x1="121.20" y1="384.80" x2="178.50" y2="384.80" stroke="#000" stroke-width="1.8" stroke-linecap="butt"/>
<line x1="121.20" y1="394.70" x2="178.50" y2="394.70" stroke="#000" stroke-width="1.8" stroke-linecap="butt"/>
<rect x="134.30" y="333.60" width="30.70" height="12.60" rx="1.2" stroke="#000" stroke-width="1.5" fill="none"/>
<path d="M134.30,333.6 h2.6 L134.30,336.20000000000005Z" stroke="#000" stroke-width="0" fill="#000" />
<path d="M165.00,333.6 h-2.6 L165.00,336.20000000000005Z" stroke="#000" stroke-width="0" fill="#000" />
<path d="M134.30,346.2 h2.6 L134.30,343.59999999999997Z" stroke="#000" stroke-width="0" fill="#000" />
<path d="M165.00,346.2 h-2.6 L165.00,343.59999999999997Z" stroke="#000" stroke-width="0" fill="#000" />
<path d="M147.80,333.6 h3.6 L149.60,336.2Z" stroke="#000" stroke-width="0" fill="#000" />
<path d="M147.80,346.2 h3.6 L149.60,343.6Z" stroke="#000" stroke-width="0" fill="#000" />
<ellipse cx="142.10" cy="339.9" rx="7.0" ry="5.6" stroke="#000" stroke-width="1.4" fill="#fff"/>
<ellipse cx="157.00" cy="339.9" rx="7.0" ry="5.6" stroke="#000" stroke-width="1.4" fill="#fff"/>
<path d="M135.6,348.3 Q149.6,345.3 163.1,347.0 L163.1,349.8 Q149.6,348.6 135.6,350.8Z" stroke="#000" stroke-width="1.5" fill="none" />
<rect x="130.90" y="351.60" width="37.20" height="3.40" rx="0" stroke="#000" stroke-width="1.3" fill="none"/>
<rect x="125.20" y="353.80" width="49.40" height="6.40" rx="0" stroke="#000" stroke-width="1.4" fill="#fff"/>
<line x1="129.20" y1="353.80" x2="129.20" y2="360.20" stroke="#000" stroke-width="1.0" stroke-linecap="butt"/>
<line x1="170.60" y1="353.80" x2="170.60" y2="360.20" stroke="#000" stroke-width="1.0" stroke-linecap="butt"/>
<line x1="186.30" y1="299.20" x2="249.40" y2="299.20" stroke="#111" stroke-width="1.8" stroke-dasharray="1.6,0.5" stroke-linecap="butt"/>
<line x1="186.30" y1="302.90" x2="249.40" y2="302.90" stroke="#000" stroke-width="1.6" stroke-dasharray="1.3,0.6" stroke-linecap="butt"/>
<line x1="186.30" y1="306.50" x2="249.40" y2="306.50" stroke="#000" stroke-width="1.6" stroke-linecap="butt"/>
<line x1="186.30" y1="314.10" x2="249.40" y2="314.10" stroke="#000" stroke-width="1.6" stroke-linecap="butt"/>
<line x1="186.30" y1="299.20" x2="186.30" y2="314.10" stroke="#000" stroke-width="1.0" stroke-linecap="butt"/>
<line x1="249.40" y1="299.20" x2="249.40" y2="314.10" stroke="#000" stroke-width="1.0" stroke-linecap="butt"/>
<line x1="189.20" y1="314.10" x2="189.20" y2="394.90" stroke="#000" stroke-width="1.4" stroke-linecap="butt"/>
<line x1="246.50" y1="314.10" x2="246.50" y2="394.90" stroke="#000" stroke-width="1.4" stroke-linecap="butt"/>
<line x1="217.60" y1="314.10" x2="217.60" y2="333.60" stroke="#000" stroke-width="1.0" stroke-linecap="butt"/>
<line x1="217.60" y1="360.20" x2="217.60" y2="410.80" stroke="#000" stroke-width="1.0" stroke-linecap="butt"/>
<line x1="189.20" y1="360.20" x2="246.50" y2="360.20" stroke="#000" stroke-width="1.3" stroke-linecap="butt"/>
<line x1="189.20" y1="380.00" x2="246.50" y2="380.00" stroke="#000" stroke-width="1.8" stroke-linecap="butt"/>
<line x1="189.20" y1="384.80" x2="246.50" y2="384.80" stroke="#000" stroke-width="1.8" stroke-linecap="butt"/>
<line x1="189.20" y1="394.70" x2="246.50" y2="394.70" stroke="#000" stroke-width="1.8" stroke-linecap="butt"/>
<rect x="202.30" y="333.60" width="30.70" height="12.60" rx="1.2" stroke="#000" stroke-width="1.5" fill="none"/>
<path d="M202.30,333.6 h2.6 L202.30,336.20000000000005Z" stroke="#000" stroke-width="0" fill="#000" />
<path d="M233.00,333.6 h-2.6 L233.00,336.20000000000005Z" stroke="#000" stroke-width="0" fill="#000" />
<path d="M202.30,346.2 h2.6 L202.30,343.59999999999997Z" stroke="#000" stroke-width="0" fill="#000" />
<path d="M233.00,346.2 h-2.6 L233.00,343.59999999999997Z" stroke="#000" stroke-width="0" fill="#000" />
<path d="M215.80,333.6 h3.6 L217.60,336.2Z" stroke="#000" stroke-width="0" fill="#000" />
<path d="M215.80,346.2 h3.6 L217.60,343.6Z" stroke="#000" stroke-width="0" fill="#000" />
<ellipse cx="210.10" cy="339.9" rx="7.0" ry="5.6" stroke="#000" stroke-width="1.4" fill="#fff"/>
<ellipse cx="225.00" cy="339.9" rx="7.0" ry="5.6" stroke="#000" stroke-width="1.4" fill="#fff"/>
<path d="M203.6,348.3 Q217.6,345.3 231.1,347.0 L231.1,349.8 Q217.6,348.6 203.6,350.8Z" stroke="#000" stroke-width="1.5" fill="none" />
<rect x="198.90" y="351.60" width="37.20" height="3.40" rx="0" stroke="#000" stroke-width="1.3" fill="none"/>
<rect x="193.20" y="353.80" width="49.40" height="6.40" rx="0" stroke="#000" stroke-width="1.4" fill="#fff"/>
<line x1="197.20" y1="353.80" x2="197.20" y2="360.20" stroke="#000" stroke-width="1.0" stroke-linecap="butt"/>
<line x1="238.60" y1="353.80" x2="238.60" y2="360.20" stroke="#000" stroke-width="1.0" stroke-linecap="butt"/>
<line x1="254.30" y1="299.20" x2="317.40" y2="299.20" stroke="#111" stroke-width="1.8" stroke-dasharray="1.6,0.5" stroke-linecap="butt"/>
<line x1="254.30" y1="302.90" x2="317.40" y2="302.90" stroke="#000" stroke-width="1.6" stroke-dasharray="1.3,0.6" stroke-linecap="butt"/>
<line x1="254.30" y1="306.50" x2="317.40" y2="306.50" stroke="#000" stroke-width="1.6" stroke-linecap="butt"/>
<line x1="254.30" y1="314.10" x2="317.40" y2="314.10" stroke="#000" stroke-width="1.6" stroke-linecap="butt"/>
<line x1="254.30" y1="299.20" x2="254.30" y2="314.10" stroke="#000" stroke-width="1.0" stroke-linecap="butt"/>
<line x1="317.40" y1="299.20" x2="317.40" y2="314.10" stroke="#000" stroke-width="1.0" stroke-linecap="butt"/>
<line x1="257.20" y1="314.10" x2="257.20" y2="394.90" stroke="#000" stroke-width="1.4" stroke-linecap="butt"/>
<line x1="314.50" y1="314.10" x2="314.50" y2="394.90" stroke="#000" stroke-width="1.4" stroke-linecap="butt"/>
<line x1="285.60" y1="314.10" x2="285.60" y2="333.60" stroke="#000" stroke-width="1.0" stroke-linecap="butt"/>
<line x1="285.60" y1="360.20" x2="285.60" y2="410.80" stroke="#000" stroke-width="1.0" stroke-linecap="butt"/>
<line x1="257.20" y1="360.20" x2="314.50" y2="360.20" stroke="#000" stroke-width="1.3" stroke-linecap="butt"/>
<line x1="257.20" y1="380.00" x2="314.50" y2="380.00" stroke="#000" stroke-width="1.8" stroke-linecap="butt"/>
<line x1="257.20" y1="384.80" x2="314.50" y2="384.80" stroke="#000" stroke-width="1.8" stroke-linecap="butt"/>
<line x1="257.20" y1="394.70" x2="314.50" y2="394.70" stroke="#000" stroke-width="1.8" stroke-linecap="butt"/>
<rect x="270.30" y="333.60" width="30.70" height="12.60" rx="1.2" stroke="#000" stroke-width="1.5" fill="none"/>
<path d="M270.30,333.6 h2.6 L270.30,336.20000000000005Z" stroke="#000" stroke-width="0" fill="#000" />
<path d="M301.00,333.6 h-2.6 L301.00,336.20000000000005Z" stroke="#000" stroke-width="0" fill="#000" />
<path d="M270.30,346.2 h2.6 L270.30,343.59999999999997Z" stroke="#000" stroke-width="0" fill="#000" />
<path d="M301.00,346.2 h-2.6 L301.00,343.59999999999997Z" stroke="#000" stroke-width="0" fill="#000" />
<path d="M283.80,333.6 h3.6 L285.60,336.2Z" stroke="#000" stroke-width="0" fill="#000" />
<path d="M283.80,346.2 h3.6 L285.60,343.6Z" stroke="#000" stroke-width="0" fill="#000" />
<ellipse cx="278.10" cy="339.9" rx="7.0" ry="5.6" stroke="#000" stroke-width="1.4" fill="#fff"/>
<ellipse cx="293.00" cy="339.9" rx="7.0" ry="5.6" stroke="#000" stroke-width="1.4" fill="#fff"/>
<path d="M271.6,348.3 Q285.6,345.3 299.1,347.0 L299.1,349.8 Q285.6,348.6 271.6,350.8Z" stroke="#000" stroke-width="1.5" fill="none" />
<rect x="266.90" y="351.60" width="37.20" height="3.40" rx="0" stroke="#000" stroke-width="1.3" fill="none"/>
<rect x="261.20" y="353.80" width="49.40" height="6.40" rx="0" stroke="#000" stroke-width="1.4" fill="#fff"/>
<line x1="265.20" y1="353.80" x2="265.20" y2="360.20" stroke="#000" stroke-width="1.0" stroke-linecap="butt"/>
<line x1="306.60" y1="353.80" x2="306.60" y2="360.20" stroke="#000" stroke-width="1.0" stroke-linecap="butt"/>
<rect x="181.30" y="300.60" width="5.10" height="15.80" rx="0" stroke="#000" stroke-width="1.2" fill="#c8c8c8"/>
<line x1="183.90" y1="300.60" x2="183.90" y2="316.40" stroke="#555" stroke-width="0.6" stroke-linecap="butt"/>
<rect x="178.50" y="316.40" width="5.40" height="7.00" rx="1.6" stroke="#000" stroke-width="1.2" fill="none"/>
<rect x="183.90" y="316.40" width="5.40" height="7.00" rx="1.6" stroke="#000" stroke-width="1.2" fill="none"/>
<line x1="178.50" y1="323.40" x2="189.30" y2="323.40" stroke="#000" stroke-width="1.5" stroke-linecap="butt"/>
<line x1="183.20" y1="323.40" x2="183.20" y2="410.80" stroke="#333" stroke-width="0.8" stroke-linecap="butt"/>
<line x1="184.60" y1="323.40" x2="184.60" y2="410.80" stroke="#333" stroke-width="0.8" stroke-linecap="butt"/>
<line x1="178.50" y1="386.20" x2="189.30" y2="386.20" stroke="#444" stroke-width="1.0" stroke-dasharray="1,1" stroke-linecap="butt"/>
<rect x="249.30" y="300.60" width="5.10" height="15.80" rx="0" stroke="#000" stroke-width="1.2" fill="#c8c8c8"/>
<line x1="251.90" y1="300.60" x2="251.90" y2="316.40" stroke="#555" stroke-width="0.6" stroke-linecap="butt"/>
<rect x="246.50" y="316.40" width="5.40" height="7.00" rx="1.6" stroke="#000" stroke-width="1.2" fill="none"/>
<rect x="251.90" y="316.40" width="5.40" height="7.00" rx="1.6" stroke="#000" stroke-width="1.2" fill="none"/>
<line x1="246.50" y1="323.40" x2="257.30" y2="323.40" stroke="#000" stroke-width="1.5" stroke-linecap="butt"/>
<line x1="251.20" y1="323.40" x2="251.20" y2="410.80" stroke="#333" stroke-width="0.8" stroke-linecap="butt"/>
<line x1="252.60" y1="323.40" x2="252.60" y2="410.80" stroke="#333" stroke-width="0.8" stroke-linecap="butt"/>
<line x1="246.50" y1="386.20" x2="257.30" y2="386.20" stroke="#444" stroke-width="1.0" stroke-dasharray="1,1" stroke-linecap="butt"/>
<rect x="115.20" y="301.40" width="3.20" height="15.90" rx="0" stroke="#000" stroke-width="1.3" fill="#c8c8c8"/>
<rect x="112.50" y="306.50" width="2.70" height="9.60" rx="0.8" stroke="#000" stroke-width="1.2" fill="#ddd"/>
<line x1="115.90" y1="317.30" x2="115.90" y2="410.80" stroke="#000" stroke-width="1.4" stroke-linecap="butt"/>
<path d="M115.9,317.3 V319.5 Q115.9,322.5 118.5,322.5 Q121.2,322.5 121.2,319.5" stroke="#000" stroke-width="1.1" fill="none" />
<line x1="115.90" y1="386.20" x2="121.20" y2="386.20" stroke="#444" stroke-width="1.0" stroke-dasharray="1,1" stroke-linecap="butt"/>
<rect x="110.90" y="359.40" width="5.10" height="31.60" rx="2.4" stroke="#000" stroke-width="1.5" fill="#fff"/>
<line x1="113.45" y1="362.00" x2="113.45" y2="389.00" stroke="#555" stroke-width="0.7" stroke-dasharray="1,1" stroke-linecap="butt"/>
<path d="M96.1,411.5 V395.8 Q96.1,392.4 99.5,392.4 H112.2 Q115.6,392.4 115.6,395.8 V411.5" stroke="#000" stroke-width="1.4" fill="none" />
<path d="M99.7,411.5 V398 Q99.7,395.6 102,395.6 H110.1 Q112.4,395.6 112.4,398 V411.5" stroke="#000" stroke-width="1.2" fill="none" />
<rect x="102.90" y="388.20" width="5.90" height="18.80" fill="#000"/>
<rect x="101.30" y="385.30" width="8.90" height="3.10" fill="#000"/>
<rect x="99.70" y="404.20" width="12.70" height="3.00" fill="#000"/>
<rect x="86.20" y="404.20" width="9.90" height="2.90" fill="#000"/>
<line x1="86.20" y1="404.20" x2="86.20" y2="418.30" stroke="#000" stroke-width="1.6" stroke-linecap="butt"/>
<rect x="317.00" y="301.40" width="3.20" height="15.90" rx="0" stroke="#000" stroke-width="1.3" fill="#c8c8c8"/>
<rect x="320.20" y="306.50" width="2.70" height="9.60" rx="0.8" stroke="#000" stroke-width="1.2" fill="#ddd"/>
<line x1="319.50" y1="317.30" x2="319.50" y2="410.80" stroke="#000" stroke-width="1.4" stroke-linecap="butt"/>
<path d="M319.5,317.3 V319.5 Q319.5,322.5 316.9,322.5 Q314.2,322.5 314.2,319.5" stroke="#000" stroke-width="1.1" fill="none" />
<line x1="319.50" y1="386.20" x2="314.20" y2="386.20" stroke="#444" stroke-width="1.0" stroke-dasharray="1,1" stroke-linecap="butt"/>
<rect x="319.40" y="359.40" width="5.10" height="31.60" rx="2.4" stroke="#000" stroke-width="1.5" fill="#fff"/>
<line x1="321.95" y1="362.00" x2="321.95" y2="389.00" stroke="#555" stroke-width="0.7" stroke-dasharray="1,1" stroke-linecap="butt"/>
<path d="M339.29999999999995,411.5 V395.8 Q339.29999999999995,392.4 335.9,392.4 H323.2 Q319.79999999999995,392.4 319.79999999999995,395.8 V411.5" stroke="#000" stroke-width="1.4" fill="none" />
<path d="M335.7,411.5 V398 Q335.7,395.6 333.4,395.6 H325.29999999999995 Q323.0,395.6 323.0,398 V411.5" stroke="#000" stroke-width="1.2" fill="none" />
<rect x="326.60" y="388.20" width="5.90" height="18.80" fill="#000"/>
<rect x="325.20" y="385.30" width="8.90" height="3.10" fill="#000"/>
<rect x="323.00" y="404.20" width="12.70" height="3.00" fill="#000"/>
<rect x="339.30" y="404.20" width="9.90" height="2.90" fill="#000"/>
<line x1="349.20" y1="404.20" x2="349.20" y2="418.30" stroke="#000" stroke-width="1.6" stroke-linecap="butt"/>
<line x1="115.60" y1="410.80" x2="319.80" y2="410.80" stroke="#000" stroke-width="1.8" stroke-linecap="butt"/>
<line x1="86.20" y1="413.40" x2="349.20" y2="413.40" stroke="#000" stroke-width="1.0" stroke-linecap="butt"/>
<line x1="86.20" y1="417.10" x2="349.20" y2="417.10" stroke="#000" stroke-width="2.6" stroke-linecap="butt"/>
<line x1="118.30" y1="284.50" x2="181.40" y2="284.50" stroke="#3a3a3a" stroke-width="1.1" stroke-linecap="butt"/>
<path d="M118.7,284.5 L123.2,283.5 L123.2,285.5Z" fill="#000"/>
<path d="M181,284.5 L176.5,283.5 L176.5,285.5Z" fill="#000"/>
<line x1="118.30" y1="284.50" x2="118.30" y2="299.00" stroke="#3a3a3a" stroke-width="1.1" stroke-linecap="butt"/>
<line x1="181.40" y1="284.50" x2="181.40" y2="299.00" stroke="#3a3a3a" stroke-width="1.1" stroke-linecap="butt"/>
<text x="133.8" y="282.3" font-size="12.6" font-weight="normal" font-style="normal" text-anchor="start" fill="#1a1a1a" textLength="32.6" lengthAdjust="spacingAndGlyphs">33.40</text>
<path d="M227.60,298.30 C227.08,299.75 225.32,304.38 224.50,307.00 C223.68,309.62 223.15,311.67 222.70,314.00 C222.25,316.33 221.83,318.33 221.80,321.00 C221.77,323.67 221.88,326.83 222.50,330.00 C223.12,333.17 224.55,336.67 225.50,340.00 C226.45,343.33 227.22,346.67 228.20,350.00 C229.18,353.33 230.42,356.67 231.40,360.00 C232.38,363.33 233.50,366.67 234.10,370.00 C234.70,373.33 235.08,376.67 235.00,380.00 C234.92,383.33 234.05,386.67 233.60,390.00 C233.15,393.33 232.82,396.67 232.30,400.00 C231.78,403.33 230.98,406.95 230.50,410.00 C230.02,413.05 229.58,416.92 229.40,418.30 L234.50,418.30 C234.73,416.92 235.43,413.05 235.90,410.00 C236.37,406.95 236.77,403.33 237.30,400.00 C237.83,396.67 238.65,393.33 239.10,390.00 C239.55,386.67 240.00,383.33 240.00,380.00 C240.00,376.67 239.78,373.33 239.10,370.00 C238.42,366.67 236.93,363.33 235.90,360.00 C234.87,356.67 233.80,353.33 232.90,350.00 C232.00,346.67 231.40,343.33 230.50,340.00 C229.60,336.67 228.12,333.17 227.50,330.00 C226.88,326.83 226.77,323.67 226.80,321.00 C226.83,318.33 227.25,316.33 227.70,314.00 C228.15,311.67 228.68,309.62 229.50,307.00 C230.32,304.38 232.08,299.75 232.60,298.30Z" stroke="#000" stroke-width="0" fill="#fff" />
<path d="M227.60,298.30 C227.08,299.75 225.32,304.38 224.50,307.00 C223.68,309.62 223.15,311.67 222.70,314.00 C222.25,316.33 221.83,318.33 221.80,321.00 C221.77,323.67 221.88,326.83 222.50,330.00 C223.12,333.17 224.55,336.67 225.50,340.00 C226.45,343.33 227.22,346.67 228.20,350.00 C229.18,353.33 230.42,356.67 231.40,360.00 C232.38,363.33 233.50,366.67 234.10,370.00 C234.70,373.33 235.08,376.67 235.00,380.00 C234.92,383.33 234.05,386.67 233.60,390.00 C233.15,393.33 232.82,396.67 232.30,400.00 C231.78,403.33 230.98,406.95 230.50,410.00 C230.02,413.05 229.58,416.92 229.40,418.30" stroke="#000" stroke-width="1.1" fill="none" />
<path d="M232.60,298.30 C232.08,299.75 230.32,304.38 229.50,307.00 C228.68,309.62 228.15,311.67 227.70,314.00 C227.25,316.33 226.83,318.33 226.80,321.00 C226.77,323.67 226.88,326.83 227.50,330.00 C228.12,333.17 229.60,336.67 230.50,340.00 C231.40,343.33 232.00,346.67 232.90,350.00 C233.80,353.33 234.87,356.67 235.90,360.00 C236.93,363.33 238.42,366.67 239.10,370.00 C239.78,373.33 240.00,376.67 240.00,380.00 C240.00,383.33 239.55,386.67 239.10,390.00 C238.65,393.33 237.83,396.67 237.30,400.00 C236.77,403.33 236.37,406.95 235.90,410.00 C235.43,413.05 234.73,416.92 234.50,418.30" stroke="#000" stroke-width="1.1" fill="none" />
<path d="M592.3,298.7 L597.7,302.6 L593.2,316.8 L597.7,322.0 V386.3 L574.0,410.8 H549.8 M492.8,410.8 H468.5 L443.9,386.3 V322.5 L448.3,317.2 L443.9,303.0 L449.6,298.7" stroke="#000" stroke-width="1.6" fill="none" stroke-linejoin="round"/>
<line x1="449.60" y1="298.70" x2="592.30" y2="298.70" stroke="#111" stroke-width="1.4" stroke-dasharray="1.3,0.6" stroke-linecap="butt"/>
<path d="M447.4,301.5 H492.4 L495.9,305.6 H546.6 L550.1,301.5 H594.6" stroke="#000" stroke-width="1.1" fill="none" />
<circle cx="456.50" cy="311.10" r="4.4" stroke="#000" stroke-width="1.6" fill="none"/>
<path d="M463.00,305.2 L491.20,305.2 L494.70,309.3 L508.20,309.3 L508.20,319.0 L463.00,319.0Z" stroke="#000" stroke-width="2.0" fill="none" stroke-linejoin="round"/>
<rect x="449.90" y="321.30" width="62.50" height="19.50" rx="1.5" stroke="#000" stroke-width="2.0" fill="none"/>
<rect x="449.90" y="343.80" width="30.20" height="15.90" rx="1.5" stroke="#000" stroke-width="2.0" fill="none"/>
<rect x="482.60" y="343.80" width="29.90" height="15.90" rx="1.5" stroke="#000" stroke-width="2.0" fill="none"/>
<path d="M450.40,362.8 L489.80,362.8 L489.80,381.8 L468.50,381.8 L465.50,379.0 L450.40,379.0Z" stroke="#000" stroke-width="2.0" fill="none" stroke-linejoin="round"/>
<rect x="492.50" y="362.80" width="13.30" height="19.00" rx="1.2" stroke="#000" stroke-width="2.0" fill="none"/>
<path d="M462.20,382.50 L455.70,386.25 L455.70,393.75 L462.20,397.50 L468.70,393.75 L468.70,386.25Z" stroke="#000" stroke-width="1.3" fill="none" />
<circle cx="462.20" cy="390.00" r="4.4" stroke="#000" stroke-width="1.5" fill="none"/>
<path d="M478.8,411.2 V393.5 A5.0,5.0 0 0 1 488.2,391.0" stroke="#000" stroke-width="1.5" fill="none" />
<line x1="478.80" y1="394.80" x2="500.50" y2="394.80" stroke="#333" stroke-width="1.0" stroke-dasharray="1.2,0.6" stroke-linecap="butt"/>
<line x1="500.50" y1="392.60" x2="500.50" y2="401.00" stroke="#000" stroke-width="1.4" stroke-linecap="butt"/>
<rect x="487.50" y="386.80" width="9.10" height="5.20" fill="#000"/>
<rect x="488.10" y="385.40" width="3.00" height="1.80" fill="#000"/>
<rect x="493.00" y="385.40" width="3.00" height="1.80" fill="#000"/>
<rect x="489.10" y="386.20" width="1.40" height="1.40" fill="#fff"/>
<rect x="493.60" y="386.20" width="1.40" height="1.40" fill="#fff"/>
<circle cx="586.30" cy="311.10" r="4.4" stroke="#000" stroke-width="1.6" fill="none"/>
<path d="M579.50,305.2 L551.30,305.2 L547.80,309.3 L534.30,309.3 L534.30,319.0 L579.50,319.0Z" stroke="#000" stroke-width="2.0" fill="none" stroke-linejoin="round"/>
<rect x="530.10" y="321.30" width="62.50" height="19.50" rx="1.5" stroke="#000" stroke-width="2.0" fill="none"/>
<rect x="562.40" y="343.80" width="30.20" height="15.90" rx="1.5" stroke="#000" stroke-width="2.0" fill="none"/>
<rect x="530.00" y="343.80" width="29.90" height="15.90" rx="1.5" stroke="#000" stroke-width="2.0" fill="none"/>
<path d="M592.10,362.8 L552.70,362.8 L552.70,381.8 L574.00,381.8 L577.00,379.0 L592.10,379.0Z" stroke="#000" stroke-width="2.0" fill="none" stroke-linejoin="round"/>
<rect x="536.70" y="362.80" width="13.30" height="19.00" rx="1.2" stroke="#000" stroke-width="2.0" fill="none"/>
<path d="M580.30,382.50 L573.80,386.25 L573.80,393.75 L580.30,397.50 L586.80,393.75 L586.80,386.25Z" stroke="#000" stroke-width="1.3" fill="none" />
<circle cx="580.30" cy="390.00" r="4.4" stroke="#000" stroke-width="1.5" fill="none"/>
<path d="M563.7,411.2 V393.5 A5.0,5.0 0 0 0 554.3,391.0" stroke="#000" stroke-width="1.5" fill="none" />
<line x1="563.70" y1="394.80" x2="542.00" y2="394.80" stroke="#333" stroke-width="1.0" stroke-dasharray="1.2,0.6" stroke-linecap="butt"/>
<line x1="542.00" y1="392.60" x2="542.00" y2="401.00" stroke="#000" stroke-width="1.4" stroke-linecap="butt"/>
<rect x="545.90" y="386.80" width="9.10" height="5.20" fill="#000"/>
<rect x="546.50" y="385.40" width="3.00" height="1.80" fill="#000"/>
<rect x="551.40" y="385.40" width="3.00" height="1.80" fill="#000"/>
<rect x="547.50" y="386.20" width="1.40" height="1.40" fill="#fff"/>
<rect x="552.00" y="386.20" width="1.40" height="1.40" fill="#fff"/>
<path d="M520.85,313.60 L514.79,317.10 L514.79,324.10 L520.85,327.60 L526.91,324.10 L526.91,317.10Z" stroke="#000" stroke-width="1.3" fill="none" />
<circle cx="520.85" cy="320.60" r="3.6" stroke="#000" stroke-width="1.5" fill="none"/>
<rect x="517.00" y="330.30" width="8.10" height="28.90" rx="0" stroke="#000" stroke-width="1.8" fill="none"/>
<line x1="517.00" y1="345.60" x2="525.10" y2="345.60" stroke="#000" stroke-width="1.4" stroke-linecap="butt"/>
<path d="M506.2,392.6 V363 Q506.2,360.2 509,360.2 H533.5 Q536.3,360.2 536.3,363 V392.6" stroke="#000" stroke-width="1.6" fill="none" />
<line x1="506.20" y1="366.50" x2="536.30" y2="366.50" stroke="#222" stroke-width="1.4" stroke-dasharray="1.2,0.5" stroke-linecap="butt"/>
<line x1="506.20" y1="368.20" x2="536.30" y2="368.20" stroke="#000" stroke-width="0.8" stroke-linecap="butt"/>
<line x1="506.20" y1="389.00" x2="536.30" y2="389.00" stroke="#222" stroke-width="1.2" stroke-dasharray="1.2,0.5" stroke-linecap="butt"/>
<line x1="506.20" y1="390.90" x2="536.30" y2="390.90" stroke="#000" stroke-width="0.9" stroke-linecap="butt"/>
<line x1="478.80" y1="392.60" x2="563.70" y2="392.60" stroke="#000" stroke-width="1.6" stroke-linecap="butt"/>
<line x1="500.50" y1="401.00" x2="542.00" y2="401.00" stroke="#000" stroke-width="1.0" stroke-linecap="butt"/>
<path d="M487.6,401.6 H555.0 V406.1 H549.6 V411 L551.2,413 V417.4 H491.4 V413 L493.0,411 V406.1 H487.6 Z" stroke="#000" stroke-width="1.4" fill="none" />
<line x1="495.00" y1="403.90" x2="548.00" y2="403.90" stroke="#000" stroke-width="1.0" stroke-linecap="butt"/>
<rect x="487.60" y="401.00" width="8.20" height="3.40" fill="#000"/>
<rect x="546.80" y="401.00" width="8.20" height="3.40" fill="#000"/>
<rect x="487.60" y="401.00" width="1.80" height="5.60" fill="#000"/>
<rect x="553.20" y="401.00" width="1.80" height="5.60" fill="#000"/>
<path d="M496.9,404 V409.6 H505.4 V405.8 H508.2 L511.2,404" stroke="#000" stroke-width="1.3" fill="none" />
<path d="M545.6,404 V409.6 H537.1 V405.8 H534.3 L531.3,404" stroke="#000" stroke-width="1.3" fill="none" />
<line x1="497.00" y1="415.90" x2="545.50" y2="415.90" stroke="#000" stroke-width="1.0" stroke-linecap="butt"/>
<text x="544.6" y="330.5" font-size="8.6" font-weight="bold" font-style="italic" fill="#000" stroke="#000" stroke-width="0.5" textLength="33.2" lengthAdjust="spacingAndGlyphs">SUPU</text>
<text x="533.3" y="338.5" font-size="6.4" font-weight="bold" fill="#000" stroke="#000" stroke-width="0.75" textLength="20.2" lengthAdjust="spacingAndGlyphs">TBR200</text>
<text x="559.4" y="338.5" font-size="6.4" font-weight="bold" fill="#000" stroke="#000" stroke-width="0.75" textLength="29.6" lengthAdjust="spacingAndGlyphs">800V300A</text>
<line x1="443.80" y1="276.80" x2="443.80" y2="323.00" stroke="#3a3a3a" stroke-width="1.1" stroke-linecap="butt"/>
<line x1="598.40" y1="276.80" x2="598.40" y2="303.00" stroke="#3a3a3a" stroke-width="1.1" stroke-linecap="butt"/>
<line x1="443.90" y1="276.80" x2="598.70" y2="276.80" stroke="#3a3a3a" stroke-width="1.1" stroke-linecap="butt"/>
<path d="M444.3,276.8 L448.8,275.8 L448.8,277.8Z" fill="#000"/>
<path d="M598.3,276.8 L593.8,275.8 L593.8,277.8Z" fill="#000"/>
<text x="504.4" y="274.7" font-size="12" font-weight="normal" font-style="normal" text-anchor="start" fill="#1a1a1a" textLength="33" lengthAdjust="spacingAndGlyphs">82.00</text>
<line x1="598.50" y1="299.30" x2="626.00" y2="299.30" stroke="#3a3a3a" stroke-width="1.1" stroke-linecap="butt"/>
<line x1="573.00" y1="411.60" x2="626.00" y2="411.60" stroke="#3a3a3a" stroke-width="1.1" stroke-linecap="butt"/>
<line x1="623.20" y1="299.30" x2="623.20" y2="411.60" stroke="#3a3a3a" stroke-width="1.1" stroke-linecap="butt"/>
<path d="M623.2,299.7 L622.2,304.2 L624.2,304.2Z" fill="#000"/>
<path d="M623.2,411.2 L622.2,406.7 L624.2,406.7Z" fill="#000"/>
<text x="616.9" y="378.0" font-size="12.4" font-weight="normal" font-style="normal" text-anchor="start" fill="#1a1a1a" textLength="45.5" lengthAdjust="spacingAndGlyphs" transform="rotate(-90 616.9 378.0)">(60.00)</text>
</svg></body></html>
